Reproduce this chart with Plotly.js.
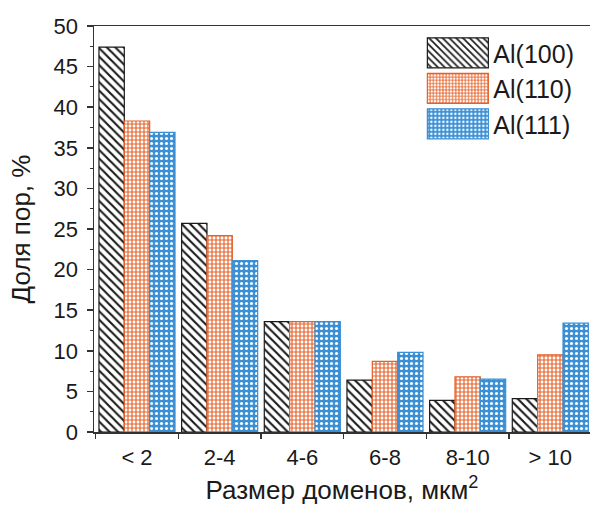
<!DOCTYPE html>
<html>
<head>
<meta charset="utf-8">
<script src="https://cdn.plot.ly/plotly-3.0.1.min.js"></script>
<style>
  html, body { margin: 0; padding: 0; background: #fff; }
  #chart { width: 590px; height: 508px; }
</style>
</head>
<body>
<div id="chart"></div>
<script>
// Domain size bins (µm²) and pore fraction (%) for each aluminium orientation
const categories = ['< 2', '2-4', '4-6', '6-8', '8-10', '> 10'];
const al100 = [47.4, 25.7, 13.6, 6.4, 3.9, 4.1];
const al110 = [38.3, 24.2, 13.6, 8.7, 6.8, 9.5];
const al111 = [36.9, 21.1, 13.6, 9.8, 6.5, 13.4];
const seriesNames = ['Al(100)', 'Al(110)', 'Al(111)'];

const black = '#1a1a1a';
const orange = '#e4622a';
const blue = '#3b8fd4';
const axisColor = '#333333';
const font = 'Liberation Sans, Arial, sans-serif';

const traces = [
  {
    type: 'bar', name: seriesNames[0], x: categories, y: al100,
    marker: {
      color: '#ffffff',
      line: { color: black, width: 1.2 },
      pattern: { shape: '\\', fgcolor: black, bgcolor: '#ffffff', size: 6, solidity: 0.35, fillmode: 'replace' }
    }
  },
  {
    type: 'bar', name: seriesNames[1], x: categories, y: al110,
    marker: {
      color: '#ffffff',
      line: { color: orange, width: 1.2 },
      pattern: { shape: '+', fgcolor: orange, bgcolor: '#ffffff', size: 4, solidity: 0.5, fillmode: 'replace' }
    }
  },
  {
    type: 'bar', name: seriesNames[2], x: categories, y: al111,
    marker: {
      color: blue,
      line: { color: blue, width: 1.2 },
      pattern: { shape: '.', fgcolor: '#ffffff', bgcolor: blue, size: 5, solidity: 0.3, fillmode: 'replace' }
    }
  }
];

const layout = {
  width: 590,
  height: 508,
  margin: { l: 94, r: 0, t: 26, b: 76 },
  paper_bgcolor: '#ffffff',
  plot_bgcolor: '#ffffff',
  font: { family: font, size: 22, color: '#1a1a1a' },
  barmode: 'group',
  bargap: 0.08,
  bargroupgap: 0,
  showlegend: true,
  legend: {
    x: 0.66, y: 0.99, xanchor: 'left', yanchor: 'top',
    font: { family: font, size: 25, color: '#1a1a1a' },
    bgcolor: 'rgba(0,0,0,0)',
    itemwidth: 62,
    tracegroupgap: 0
  },
  xaxis: {
    type: 'category',
    range: [-0.52, 5.48],
    showline: true, linecolor: axisColor, linewidth: 1.5,
    mirror: true,
    ticks: 'outside', ticklen: 5, tickwidth: 1.5, tickcolor: axisColor,
    tickson: 'boundaries',
    ticklabelstandoff: 5,
    showgrid: false, zeroline: false,
    tickfont: { family: font, size: 22, color: '#1a1a1a' },
    title: {
      text: 'Размер доменов, мкм<sup>2</sup>',
      font: { family: font, size: 26, color: '#1a1a1a' },
      standoff: 12
    }
  },
  yaxis: {
    range: [0, 50],
    dtick: 5, tick0: 0,
    showline: true, linecolor: axisColor, linewidth: 1.5,
    mirror: false,
    ticks: 'outside', ticklen: 6, tickwidth: 1.5, tickcolor: axisColor,
    minor: { dtick: 2.5, ticks: 'outside', ticklen: 3, tickwidth: 1, tickcolor: axisColor },
    ticklabelstandoff: 4,
    showgrid: false, zeroline: false,
    tickfont: { family: font, size: 22, color: '#1a1a1a' },
    title: {
      text: 'Доля пор, %',
      font: { family: font, size: 26, color: '#1a1a1a' },
      standoff: 15
    }
  }
};

Plotly.newPlot('chart', traces, layout, { displayModeBar: false, staticPlot: true }).then(function (gd) {
  // Enlarge the legend swatches to wide hatched blocks
  gd.querySelectorAll('.legend .legendpoints path').forEach(function (p) {
    p.setAttribute('d', 'M31,15H-30V-15H31Z');
  });
});
</script>
</body>
</html>
